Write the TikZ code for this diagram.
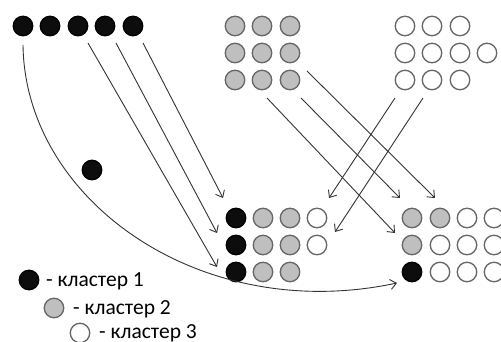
\documentclass[tikz,border=0pt]{standalone}
\usepackage{fontspec}
\setmainfont{Carlito}
\usetikzlibrary{positioning, arrows.meta, calc}

\tikzset{
  dot/.style={circle, minimum size=19.5pt, inner sep=0pt, line width=1.3pt},
  blk/.style={dot, draw=black, fill=black!95},
  gry/.style={dot, draw=black!60, fill=black!25},
  wht/.style={dot, draw=black!60, fill=white},
  arr/.style={draw=black!80, line width=0.9pt, -{Straight Barb[length=6pt,width=10pt]}},
  lbl/.style={anchor=base west, inner sep=0pt, font=\fontsize{21.5}{25}\selectfont}
}

\begin{document}
\begin{tikzpicture}[x=1pt, y=-1pt]
\useasboundingbox (0,0) rectangle (501,342);
% top row, cluster 1
\node[blk] (b1) at (23, 26) {};
\node[blk] (b2) at (50, 26) {};
\node[blk] (b3) at (78, 26) {};
\node[blk] (b4) at (105, 26) {};
\node[blk] (b5) at (133, 26) {};
\node[blk] (bx) at (92, 170) {};
% cluster 2
\node[gry] (g11) at (235, 26) {};
\node[gry] (g12) at (262, 26) {};
\node[gry] (g13) at (290, 26) {};
\node[gry] (g21) at (235, 53) {};
\node[gry] (g22) at (262, 53) {};
\node[gry] (g23) at (290, 53) {};
\node[gry] (g31) at (235, 80) {};
\node[gry] (g32) at (262, 80) {};
\node[gry] (g33) at (290, 80) {};
% cluster 3
\node[wht] (w11) at (405, 26) {};
\node[wht] (w12) at (432, 26) {};
\node[wht] (w13) at (460, 26) {};
\node[wht] (w21) at (405, 53) {};
\node[wht] (w22) at (432, 53) {};
\node[wht] (w23) at (460, 53) {};
\node[wht] (w24) at (487, 53) {};
\node[wht] (w31) at (405, 80) {};
\node[wht] (w32) at (432, 80) {};
\node[wht] (w33) at (460, 80) {};
% lower left block
\node[blk] (l11) at (236, 218) {};
\node[gry] (l12) at (263, 218) {};
\node[gry] (l13) at (290, 218) {};
\node[wht] (l14) at (317, 218) {};
\node[blk] (l21) at (236, 245) {};
\node[gry] (l22) at (263, 245) {};
\node[gry] (l23) at (290, 245) {};
\node[wht] (l24) at (317, 245) {};
\node[blk] (l31) at (236, 272) {};
\node[gry] (l32) at (263, 272) {};
\node[gry] (l33) at (290, 272) {};
% lower right block
\node[gry] (r11) at (412, 218) {};
\node[gry] (r12) at (440, 218) {};
\node[wht] (r13) at (467, 218) {};
\node[wht] (r14) at (494, 218) {};
\node[gry] (r21) at (412, 245) {};
\node[wht] (r22) at (440, 245) {};
\node[wht] (r23) at (467, 245) {};
\node[wht] (r24) at (494, 245) {};
\node[blk] (r31) at (412, 272) {};
\node[wht] (r32) at (440, 272) {};
\node[wht] (r33) at (467, 272) {};
\node[wht] (r34) at (494, 272) {};
% arrows
\draw[arr] ($(b3)+(10,17)$) -- ($(l31)+(-19,-5)$);
\draw[arr] ($(b4)+(11,17)$) -- ($(l21)+(-19,-12)$);
\draw[arr] ($(b5)+(10,17)$) -- ($(l11)+(-13,-20)$);
\draw[arr] ($(b1)+(0,19)$) .. controls +(2,155) and +(-197,42) .. ($(r31)+(-15,11)$);
\draw[arr] ($(g32)+(5,18)$) -- ($(r21)+(-17,-12)$);
\draw[arr] ($(g33)+(11,18)$) -- ($(r11)+(-12,-20)$);
\draw[arr] ($(g23)+(17,18)$) -- ($(r12)+(-5,-20)$);
\draw[arr] ($(w31)+(-10,18)$) -- ($(l14)+(12,-20)$);
\draw[arr] ($(w32)+(-9,18)$) -- ($(l24)+(18,-13)$);
% legend
\node[blk] (k1) at (29, 280) {};
\node[gry] (k2) at (54, 308) {};
\node[wht] (k3) at (80, 333) {};
\node[lbl] (t1) at (46, 286) {- кластер 1};
\node[lbl] (t2) at (73, 314) {- кластер 2};
\node[lbl] (t3) at (99, 338) {- кластер 3};
\end{tikzpicture}
\end{document}
